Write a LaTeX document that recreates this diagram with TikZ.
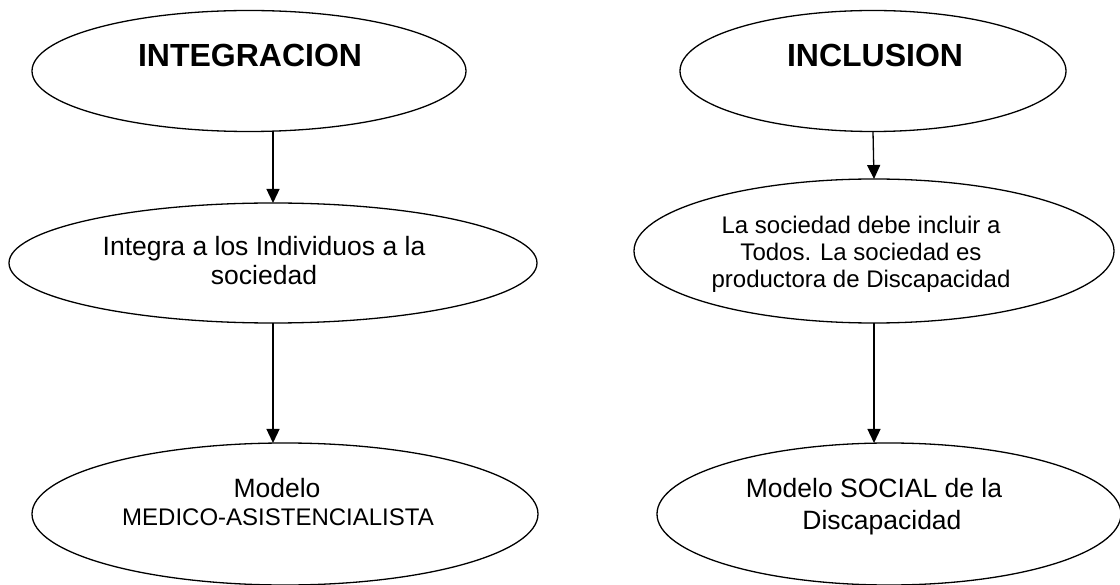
\documentclass[tikz,border=0pt]{standalone}
\usepackage{fontspec}
\setmainfont{Liberation Sans}
\usetikzlibrary{shapes.geometric,arrows.meta}
\tikzset{
  oval/.style={draw=black, line width=1.3pt, ellipse, inner sep=0pt, outer sep=0pt},
  lbl/.style={inner sep=0pt, align=center, anchor=base},
  titletext/.style={lbl, font=\fontsize{32}{36}\selectfont\bfseries},
  bigtext/.style={lbl, font=\fontsize{26.5}{29}\selectfont},
  midtext/.style={lbl, font=\fontsize{24}{27}\selectfont},
  arr/.style={line width=1.3pt, -{Triangle[length=14pt, width=13pt]}}
}
\begin{document}
\begin{tikzpicture}[x=1pt, y=-1pt]
\useasboundingbox (0,0) rectangle (1120,585);
% ellipses
\node[oval, minimum width=434pt, minimum height=121pt] (e1) at (249,71) {};
\node[oval, minimum width=528pt, minimum height=120pt] (e2) at (273,263) {};
\node[oval, minimum width=506pt, minimum height=142pt] (e3) at (285,514) {};
\node[oval, minimum width=386pt, minimum height=121pt] (f1) at (873,71) {};
\node[oval, minimum width=480pt, minimum height=144pt] (f2) at (874,251) {};
\node[oval, minimum width=464pt, minimum height=142pt] (f3) at (889,514) {};
% texts (base anchor = baseline of the last line)
\node[titletext] (t1) at (250,67) {INTEGRACION};
\node[titletext] (u1) at (875,67) {INCLUSION};
\node[bigtext] (t2) at (264,285) {Integra a los Individuos a la\\sociedad};
\node[midtext] (u2) at (861,288) {La sociedad debe incluir a\\Todos. La sociedad es\\productora de Discapacidad};
\node[bigtext] (t3a) at (277,497) {Modelo};
\node[midtext] (t3b) at (278,525) {MEDICO-ASISTENCIALISTA};
\node[lbl, font=\fontsize{26.5}{32}\selectfont] (u3) at (874,529) {Modelo SOCIAL de la\\\hspace*{0.6em}Discapacidad};
% arrows
\draw[arr] (e2.north |- e1.south) -- (e2.north);
\draw[arr] (e2.south) -- (e2.south |- e3.north);
\draw[arr] (f1.south) -- (f2.north);
\draw[arr] (f2.south) -- (f2.south |- f3.north);
\end{tikzpicture}
\end{document}
